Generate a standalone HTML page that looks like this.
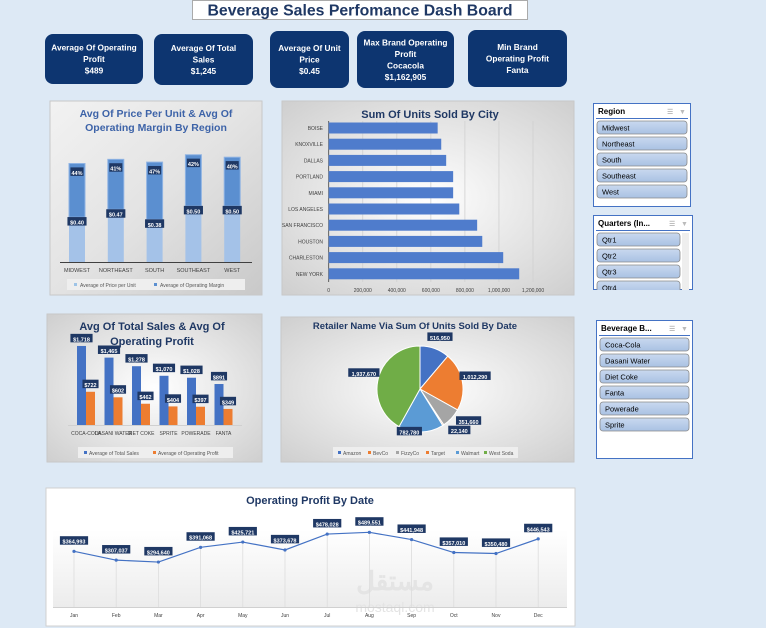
<!DOCTYPE html>
<html><head><meta charset="utf-8"><style>
html,body{margin:0;padding:0;background:#dde9f5;}
svg{display:block;font-family:"Liberation Sans","Noto Sans CJK SC",sans-serif;}
</style></head><body>
<svg id="dash" width="766" height="628" viewBox="0 0 766 628" xmlns="http://www.w3.org/2000/svg">
<defs>
<linearGradient id="gGray" x1="0" y1="0" x2="1" y2="1"><stop offset="0" stop-color="#f2f2f2"/><stop offset="0.5" stop-color="#e3e3e3"/><stop offset="1" stop-color="#c9c9c9"/></linearGradient>
<radialGradient id="gRad" cx="0.5" cy="0.5" r="0.7"><stop offset="0" stop-color="#ffffff"/><stop offset="1" stop-color="#cfcfcf"/></radialGradient>
<linearGradient id="gPlot" x1="0" y1="0" x2="0" y2="1"><stop offset="0" stop-color="#ffffff"/><stop offset="1" stop-color="#ececec"/></linearGradient>
<linearGradient id="gBtn" x1="0" y1="0" x2="0" y2="1"><stop offset="0" stop-color="#c9d9ef"/><stop offset="1" stop-color="#a9c1e3"/></linearGradient>
</defs>
<rect x="0" y="0" width="766" height="628" fill="#dde9f5"/>
<g>
<rect x="192.5" y="0.5" width="335" height="19" fill="#ffffff" stroke="#aaaaaa"/>
<text x="360" y="15.5" text-anchor="middle" font-size="15.5" font-weight="bold" fill="#1f3864" textLength="305" lengthAdjust="spacingAndGlyphs">Beverage Sales Perfomance Dash Board</text>
</g>
<g id="kpis" font-size="8.3" font-weight="bold" fill="#ffffff" text-anchor="middle"></g>

<!-- Chart 1 -->
<g>
<rect x="50" y="101" width="212" height="194" fill="url(#gGray)" stroke="#c8c8c8"/>
<text x="156" y="117" text-anchor="middle" font-size="10.5" font-weight="bold" fill="#3d63a8">Avg Of  Price Per Unit &amp; Avg Of</text>
<text x="156" y="131" text-anchor="middle" font-size="10.5" font-weight="bold" fill="#3d63a8">Operating Margin By Region</text>
<g id="c1"></g>
<line x1="60" y1="262.5" x2="252" y2="262.5" stroke="#404040"/>
<rect x="67" y="279" width="178" height="11" fill="#eeeeee"/>
<rect x="74" y="283" width="3" height="3" fill="#9dc3e6"/><text x="80" y="287" font-size="5" fill="#555">Average of  Price per Unit</text>
<rect x="154" y="283" width="3" height="3" fill="#5b8fd0"/><text x="160" y="287" font-size="5" fill="#555">Average of  Operating Margin</text>
</g>

<!-- Chart 2 -->
<g>
<rect x="282" y="101" width="292" height="194" fill="url(#gRad)" stroke="#c8c8c8"/>
<text x="430" y="118" text-anchor="middle" font-size="11" font-weight="bold" fill="#1f3864">Sum Of Units Sold By City</text>
<g id="c2"></g>
</g>

<!-- Chart 3 -->
<g>
<rect x="47" y="314" width="215" height="148" fill="url(#gRad)" stroke="#c8c8c8"/>
<text x="152" y="330" text-anchor="middle" font-size="11" font-weight="bold" fill="#1f3864">Avg Of Total Sales &amp; Avg Of</text>
<text x="152" y="345" text-anchor="middle" font-size="11" font-weight="bold" fill="#1f3864">Operating Profit</text>
<g id="c3"></g>
<rect x="78" y="447" width="155" height="11" fill="#eeeeee"/>
<rect x="84" y="451" width="3" height="3" fill="#4472c4"/><text x="89" y="455" font-size="5" fill="#555">Average of Total Sales</text>
<rect x="153" y="451" width="3" height="3" fill="#ed7d31"/><text x="158" y="455" font-size="5" fill="#555">Average of  Operating Profit</text>
</g>

<!-- Pie -->
<g>
<rect x="281" y="317" width="293" height="145" fill="url(#gRad)" stroke="#c8c8c8"/>
<text x="415" y="329" text-anchor="middle" font-size="9.5" font-weight="bold" fill="#1f3864">Retailer Name Via Sum Of Units Sold By Date</text>
<g id="c4"></g>
<rect x="333" y="447" width="185" height="11" fill="#eeeeee"/>
<g id="pieLegend" font-size="5" fill="#555"></g>
</g>

<!-- Slicers -->
<g id="slicers"></g>

<!-- Line chart -->
<g>
<rect x="46" y="488" width="529" height="138" fill="#ffffff" stroke="#d0d0d0"/>
<text x="310" y="504" text-anchor="middle" font-size="11" font-weight="bold" fill="#1f3864">Operating Profit By Date</text>
<rect x="53" y="530" width="514" height="77" fill="url(#gPlot)"/>
<text x="395" y="590" text-anchor="middle" font-size="26" font-weight="bold" fill="#e4e4e4">مستقل</text>
<text x="395" y="612" text-anchor="middle" font-size="14" fill="#e4e4e4">mostaql.com</text>
<g id="c5"></g>
</g>
</svg>
<script>
const NS="http://www.w3.org/2000/svg";
function mk(parent,tag,attrs,txt){const e=document.createElementNS(NS,tag);for(const k in attrs)e.setAttribute(k,attrs[k]);if(txt!==undefined)e.textContent=txt;parent.appendChild(e);return e;}
function label(parent,cx,cy,txt,fs){const w=txt.length*fs*0.55+4;const g=mk(parent,'g',{});


mk(g,'rect',{x:cx-w/2,y:cy-fs*0.75-2,width:w,height:fs+3,fill:'#1f3864'});mk(g,'text',{x:cx,y:cy+fs*0.25,'text-anchor':'middle','font-size':fs,'font-weight':'bold',fill:'#fff'},txt);return g;}

/* KPI cards */
const kpiTitles=[["Average Of Operating","Profit","$489"],["Average Of Total","Sales","$1,245"],["Average Of Unit","Price","$0.45"],["Max Brand Operating","Profit","Cocacola","$1,162,905"],["Min Brand","Operating Profit","Fanta"]];
const kpiBoxes=[[45,34,98,50],[154,34,99,51],[270,31,79,57],[357,31,97,57],[468,30,99,57]];
const kg=document.getElementById('kpis');
kpiTitles.forEach((lines,i)=>{const [x,y,w,h]=kpiBoxes[i];const g=mk(kg,'g',{});


mk(g,'rect',{x:x,y:y,width:w,height:h,rx:8,fill:'#0d3570'});
const lh=11.5;const sy=y+h/2-(lines.length-1)*lh/2+3;
lines.forEach((l,j)=>mk(g,'text',{x:x+w/2,y:sy+j*lh},l));});

/* Chart 1 */
const regions=["MIDWEST","NORTHEAST","SOUTH","SOUTHEAST","WEST"];
const pricePerUnit=[0.40,0.47,0.38,0.50,0.50];
const opMargin=[44,41,47,42,40];
const priceLabels=["$0.40","$0.47","$0.38","$0.50","$0.50"];
const marginLabels=["44%","41%","47%","42%","40%"];
(function(){const g=document.getElementById('c1');const base=262;
const xs=i=>77+i*38.8;const yp=v=>v*112;const ym=v=>v*1.22;
regions.forEach((r,i)=>{const x=xs(i);const hp=yp(pricePerUnit[i]);const hm=ym(opMargin[i]);
const b1=mk(g,'rect',{x:x-8,y:base-hp,width:16,height:hp,fill:'#a4c2e8'});


const b2=mk(g,'rect',{x:x-8,y:base-hp-hm,width:16,height:hm,fill:'#5b8fd0',stroke:'#8fb3e3','stroke-width':1});


label(g,x,base-hp-hm+10,marginLabels[i],5.5);
label(g,x,base-hp+6,priceLabels[i],5.5);
const t=mk(g,'text',{x:x,y:272,'text-anchor':'middle','font-size':5.5,fill:'#404040'},r);

});})();

/* Chart 2 */
const cities=["BOISE","KNOXVILLE","DALLAS","PORTLAND","MIAMI","LOS ANGELES","SAN FRANCISCO","HOUSTON","CHARLESTON","NEW YORK"];
const unitsSold=[640000,661000,690000,731000,731000,767000,872000,902000,1025000,1119000];
const cityTicks=["0","200,000","400,000","600,000","800,000","1,000,000","1,200,000"];
(function(){const g=document.getElementById('c2');const x0=328.7;const sx=v=>x0+v*204.3/1200000;const ys=i=>128+i*16.2;
cityTicks.forEach((t,i)=>{const v=i*200000;const x=sx(v);
const gl=mk(g,'line',{x1:x,y1:121,x2:x,y2:282,stroke:i==0?'#404040':'#d0d0d0','stroke-width':0.8});


const tt=mk(g,'text',{x:x,y:292,'text-anchor':'middle','font-size':5,fill:'#404040'},t);

});
cities.forEach((c,i)=>{const y=ys(i);
const b=mk(g,'rect',{x:x0,y:y-5.5,width:sx(unitsSold[i])-x0,height:11,fill:'#4f7ccc'});


const t=mk(g,'text',{x:323,y:y+2,'text-anchor':'end','font-size':5,fill:'#404040'},c);

});})();

/* Chart 3 */
const brands=["COCA-COLA","DASANI WATER","DIET COKE","SPRITE","POWERADE","FANTA"];
const totalSales=[1718,1465,1278,1070,1028,891];
const opProfit=[722,602,462,404,397,349];
(function(){const g=document.getElementById('c3');const base=425;const sc=v=>v*0.046;const xs=i=>86+i*27.5;
brands.forEach((b,i)=>{const x=xs(i);
const r1=mk(g,'rect',{x:x-9,y:base-sc(totalSales[i]),width:9,height:sc(totalSales[i]),fill:'#4472c4'});


const r2=mk(g,'rect',{x:x,y:base-sc(opProfit[i]),width:9,height:sc(opProfit[i]),fill:'#ed7d31'});


label(g,x-4.5,base-sc(totalSales[i])-6,'$'+totalSales[i].toLocaleString('en-US'),5.5);
label(g,x+4.5,base-sc(opProfit[i])-6,'$'+opProfit[i].toLocaleString('en-US'),5.5);
const t=mk(g,'text',{x:x,y:435,'text-anchor':'middle','font-size':5,fill:'#404040'},b);

});
mk(g,'line',{x1:68,y1:base+0.5,x2:242,y2:base+0.5,stroke:'#d0d0d0'});})();

/* Pie */
const retailers=["Amazon","BevCo","FizzyCo","Target","Walmart","West Soda"];
const retailerUnits=[516950,1012290,351660,22140,782780,1937670];
const pieColors=["#4472c4","#ed7d31","#a5a5a5","#ed7d31","#5b9bd5","#70ad47"];
(function(){const g=document.getElementById('c4');const cx=420,cy=389,R=43;const tot=retailerUnits.reduce((a,b)=>a+b,0);
const nudge=[[0,4],[-2,-1],[6,-6],[8,-6],[-12,-14],[0,0]];
let a=-Math.PI/2;
retailers.forEach((r,i)=>{const da=retailerUnits[i]/tot*2*Math.PI;const a2=a+da;
const p=`M${cx},${cy} L${cx+R*Math.cos(a)},${cy+R*Math.sin(a)} A${R},${R} 0 ${da>Math.PI?1:0} 1 ${cx+R*Math.cos(a2)},${cy+R*Math.sin(a2)} Z`;
const s=mk(g,'path',{d:p,fill:pieColors[i],stroke:'#ffffff','stroke-width':1});


const m=(a+a2)/2;const lr=58;const lx=cx+lr*Math.cos(m)+nudge[i][0],ly=cy+lr*Math.sin(m)+nudge[i][1];
label(g,lx,ly,retailerUnits[i].toLocaleString('en-US'),5.5);a=a2;});
const lg=document.getElementById('pieLegend');const lxs=[338,368,396,426,456,484];
retailers.forEach((r,i)=>{const e=mk(lg,'rect',{x:lxs[i],y:451,width:3,height:3,fill:pieColors[i]});


mk(lg,'text',{x:lxs[i]+5,y:455},r);});})();

/* Slicers */
const slicerDefs=[["Region",593,103,98,104,["Midwest","Northeast","South","Southeast","West"],false],["Quarters (In...",593,215,100,75,["Qtr1","Qtr2","Qtr3","Qtr4"],true],["Beverage B...",596,320,97,139,["Coca-Cola","Dasani Water","Diet Coke","Fanta","Powerade","Sprite"],false]];
(function(){const sg=document.getElementById('slicers');
slicerDefs.forEach(([title,x,y,w,h,items,scroll])=>{const g=mk(sg,'g',{});


const cp=mk(g,'clipPath',{id:'cp'+x+y});mk(cp,'rect',{x:x,y:y,width:w,height:h});
mk(g,'rect',{x:x+0.5,y:y+0.5,width:w-1,height:h-1,fill:'#ffffff',stroke:'#4472c4'});
mk(g,'text',{x:x+5,y:y+11,'font-size':8,'font-weight':'bold',fill:'#000'},title);
mk(g,'text',{x:x+w-24,y:y+11,'font-size':7,fill:'#999'},'☰');
mk(g,'text',{x:x+w-12,y:y+11,'font-size':7,fill:'#bbb'},'▼');
mk(g,'line',{x1:x+3,y1:y+15.5,x2:x+w-3,y2:y+15.5,stroke:'#4472c4'});
const inner=mk(g,'g',{'clip-path':'url(#cp'+x+y+')'});
const bw=scroll?w-17:w-8;
if(scroll)mk(inner,'rect',{x:x+w-11,y:y+18,width:7,height:h,fill:'#eeeeee'});
items.forEach((it,i)=>{const by=y+18+i*16;const b=mk(inner,'g',{});


mk(b,'rect',{x:x+4,y:by,width:bw,height:13,rx:3,fill:'url(#gBtn)',stroke:'#8a8a8a','stroke-width':0.8});
mk(b,'text',{x:x+9,y:by+9.5,'font-size':7.5,fill:'#000'},it);});});})();

/* Line chart */
const months=["Jan","Feb","Mar","Apr","May","Jun","Jul","Aug","Sep","Oct","Nov","Dec"];
const monthlyProfit=[364993,307037,294640,391068,425721,373678,478028,489551,441948,357010,350480,446543];
const profitLabels=["$364,993","$307,037","$294,640","$391,068","$425,721","$373,678","$478,028","$489,551","$441,948","$357,010","$350,480","$446,543"];
(function(){const g=document.getElementById('c5');const xs=i=>74+i*42.2;const ys=v=>607-v/6555;
months.forEach((m,i)=>{mk(g,'line',{x1:xs(i),y1:ys(monthlyProfit[i]),x2:xs(i),y2:607,stroke:'#dddddd','stroke-width':0.8});
const t=mk(g,'text',{x:xs(i),y:617,'text-anchor':'middle','font-size':5,fill:'#404040'},m);

});
mk(g,'line',{x1:53,y1:607.5,x2:567,y2:607.5,stroke:'#d0d0d0'});
const pl=mk(g,'polyline',{points:monthlyProfit.map((v,i)=>xs(i)+','+ys(v)).join(' '),fill:'none',stroke:'#4472c4','stroke-width':1.2});


monthlyProfit.forEach((v,i)=>{const c=mk(g,'circle',{cx:xs(i),cy:ys(v),r:1.6,fill:'#4472c4'});


label(g,xs(i),ys(v)-9,profitLabels[i],5.5);});})();
</script>
</body></html>
